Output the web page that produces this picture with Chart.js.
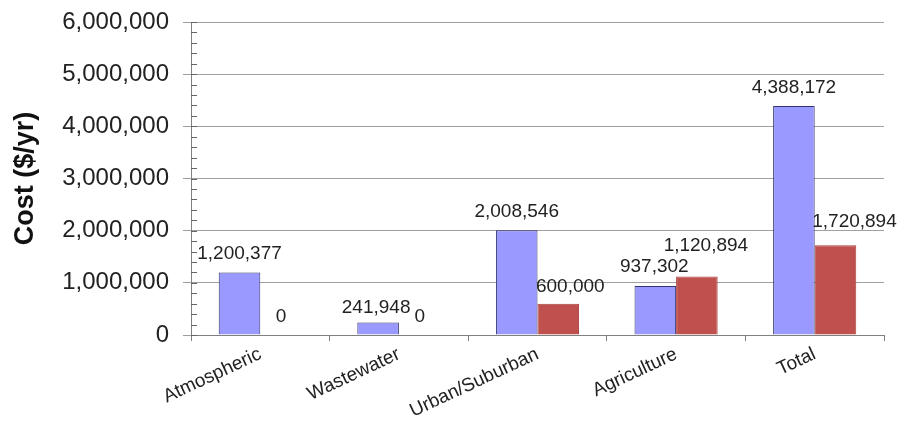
<!DOCTYPE html>
<html>
<head>
<meta charset="utf-8">
<script src="https://cdn.jsdelivr.net/npm/chart.js@4"></script>
<style>
  html, body { margin: 0; padding: 0; background: #fff; }
  #wrap { width: 900px; height: 436px; }
</style>
</head>
<body>
<div id="wrap"><canvas id="costChart"></canvas></div>
<script>
// cost per source, $/yr
const categories = ['Atmospheric', 'Wastewater', 'Urban/Suburban', 'Agriculture', 'Total'];
const blueValues = [1200377, 241948, 2008546, 937302, 4388172];
const redValues = [0, 0, 600000, 1120894, 1720894];
const yTicks = [0, 1000000, 2000000, 3000000, 4000000, 5000000, 6000000];

// small nudges so labels don't collide (px)
const blueNudge = [[0, -19], [-2, -15], [0, -18], [-1, -19], [0, -18]];
const redNudge = [[0, -18], [0, -18], [12, -17], [9, -31], [19, -23]];

const fmt = v => v.toLocaleString('en-US');

// value labels above each bar
const valueLabels = {
    id: 'valueLabels',
    afterDatasetsDraw(chart) {
        const ctx = chart.ctx;
        ctx.save();
        ctx.font = '19px "Liberation Sans", Arial, sans-serif';
        ctx.fillStyle = '#222';
        ctx.textAlign = 'center';
        ctx.textBaseline = 'middle';
        chart.data.datasets.forEach((ds, i) => {
            const nudge = i === 0 ? blueNudge : redNudge;
            chart.getDatasetMeta(i).data.forEach((bar, j) => {
                ctx.fillText(fmt(ds.data[j]), bar.x + nudge[j][0], bar.y + nudge[j][1]);
            });
        });
        ctx.restore();
    }
};

// minor ticks on the inside of the value axis
const minorTicks = {
    id: 'minorTicks',
    afterDraw(chart) {
        const y = chart.scales.y;
        const ctx = chart.ctx;
        ctx.save();
        ctx.strokeStyle = '#666';
        ctx.lineWidth = 1;
        for (let v = 0; v <= 6000000; v += 200000) {
            const py = Math.round(y.getPixelForValue(v)) + 0.5;
            ctx.beginPath();
            ctx.moveTo(y.right, py);
            ctx.lineTo(y.right + 6, py);
            ctx.stroke();
        }
        ctx.restore();
    }
};

new Chart(document.getElementById('costChart'), {
    type: 'bar',
    data: {
        labels: categories,
        datasets: [{
            data: blueValues,
            backgroundColor: '#9999ff',
            borderColor: '#33336e',
            borderWidth: 1
        }, {
            data: redValues,
            backgroundColor: '#c0504d',
            borderColor: '#a8413e',
            borderWidth: 1
        }]
    },
    options: {
        responsive: true,
        maintainAspectRatio: false,
        animation: false,
        layout: { padding: { top: 22, right: 16, left: 6, bottom: 0 } },
        plugins: {
            legend: { display: false },
            tooltip: { enabled: false }
        },
        datasets: {
            bar: { categoryPercentage: 0.6, barPercentage: 1.0 }
        },
        scales: {
            x: {
                border: { color: '#808080' },
                grid: { display: true, drawOnChartArea: false, tickLength: 6, color: '#808080', offset: true },
                ticks: {
                    minRotation: 25,
                    maxRotation: 25,
                    padding: 2,
                    color: '#222',
                    font: { family: '"Liberation Sans", Arial, sans-serif', size: 19 }
                },
                afterFit(scale) { scale.height = 101; }
            },
            y: {
                min: 0,
                max: 6000000,
                border: { color: '#808080' },
                grid: { color: '#a0a0a0', tickLength: 8 },
                afterBuildTicks(scale) {
                    scale.ticks = yTicks.map(v => ({ value: v }));
                },
                ticks: {
                    padding: 14,
                    color: '#222',
                    font: { family: '"Liberation Sans", Arial, sans-serif', size: 24 },
                    callback: v => fmt(v)
                },
                title: {
                    display: true,
                    text: 'Cost ($/yr)',
                    color: '#111',
                    padding: { top: 3, bottom: 4 },
                    font: { family: '"Liberation Sans", Arial, sans-serif', size: 27, weight: 'bold' }
                },
                afterFit(scale) {
                    scale.width = 185;
                    scale.paddingTop = 0;
                    scale.paddingBottom = 0;
                }
            }
        }
    },
    plugins: [valueLabels, minorTicks]
});
</script>
</body>
</html>
